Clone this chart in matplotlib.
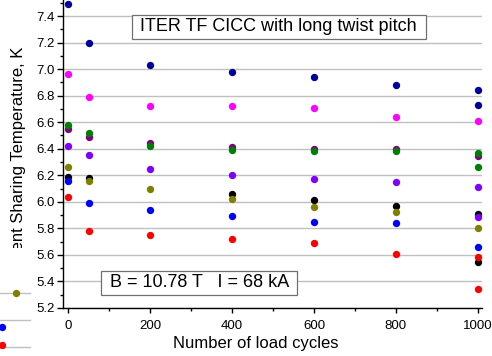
import matplotlib
matplotlib.use("Agg")
import matplotlib.pyplot as plt
from matplotlib.ticker import MultipleLocator

plt.rcParams['font.family'] = ['Liberation Sans', 'DejaVu Sans']

# load cycles at which Tcs was measured
cycles = [0, 50, 200, 400, 600, 800, 1000]
cycles_x2 = cycles + [1000]          # series with a second point at 1000
cycles_nb = [0, 50, 400, 600, 800, 1000, 1000]

navy_y = [7.49, 7.20, 7.03, 6.98, 6.94, 6.88, 6.84, 6.73]
magenta_y = [6.96, 6.79, 6.72, 6.72, 6.71, 6.64, 6.61]
black_y = [6.19, 6.18, 6.06, 6.01, 5.97, 5.905, 5.55]
purple_y = [6.55, 6.49, 6.44, 6.41, 6.40, 6.40, 6.345]
green_y = [6.58, 6.52, 6.42, 6.39, 6.38, 6.38, 6.37, 6.265]
violet_y = [6.42, 6.35, 6.25, 6.20, 6.17, 6.15, 6.11, 5.888]
olive_y = [6.26, 6.16, 6.10, 6.02, 5.96, 5.92, 5.80]
blue_y = [6.16, 5.99, 5.94, 5.89, 5.85, 5.84, 5.66]
red_y = [6.04, 5.78, 5.75, 5.72, 5.69, 5.61, 5.586, 5.343]

series = [
    (cycles_x2, navy_y, '#00009c'),
    (cycles, magenta_y, '#ff00ff'),
    (cycles_nb, black_y, '#000000'),
    (cycles, purple_y, '#800080'),
    (cycles_x2, green_y, '#008000'),
    (cycles_x2, violet_y, '#8000ff'),
    (cycles, olive_y, '#808000'),
    (cycles, blue_y, '#0000ff'),
    (cycles_x2, red_y, '#ff0000'),
]

# fragment of the neighbouring panel at the left edge
frag_grid = [0, 1, 2]
frag_x = [16, 2, 2]
frag_y = [2, 0.74, 0.07]
frag_c = ['#808000', '#0000ff', '#ff0000']

W, H = 492, 356
fig = plt.figure(figsize=(W / 100, H / 100), dpi=100)
ax = fig.add_axes([63.3 / W, 48 / H, 418.7 / W, 308 / H])

for xs, ys, c in series:
    ax.plot(xs, ys, 'o', color=c, ms=5.3, mew=0, zorder=3)

ax.set_xlim(-11.5, 1010)
ax.set_ylim(5.2, 7.5206)
ax.xaxis.set_major_locator(MultipleLocator(200))
ax.xaxis.set_minor_locator(MultipleLocator(100))
ax.yaxis.set_major_locator(MultipleLocator(0.2))
ax.yaxis.set_minor_locator(MultipleLocator(0.1))
ax.yaxis.set_major_formatter(matplotlib.ticker.FormatStrFormatter('%.1f'))
ax.grid(axis='y', which='major', color='#c0c0c0', lw=1.0, zorder=1)
ax.set_axisbelow(True)

for s in ['top', 'right']:
    ax.spines[s].set_visible(False)
for s in ['left', 'bottom']:
    ax.spines[s].set_linewidth(1.0)

ax.tick_params(axis='y', which='major', direction='out', length=4.3, width=1, pad=1.7, labelsize=9.5)
ax.tick_params(axis='y', which='minor', direction='out', length=2.2, width=1)
ax.tick_params(axis='x', which='major', direction='out', length=3.6, width=1, pad=5, labelsize=9.5)
ax.tick_params(axis='x', which='minor', direction='out', length=2.0, width=1)

ax.set_xlabel('Number of load cycles', fontsize=12)
ax.xaxis.set_label_coords(0.46, -0.092)
ax.set_ylabel('Current Sharing Temperature, K', fontsize=12)
ax.yaxis.set_label_coords(-0.089, 0.464)

box = dict(boxstyle='square,pad=0.2', fc='white', ec='#707070', lw=0.9)
ax.text(0.5145, 0.913, ' ITER TF CICC with long twist pitch ', transform=ax.transAxes,
        ha='center', va='center', fontsize=13, bbox=box, zorder=5)
ax.text(0.3236, 0.0818, ' B = 10.78 T   I = 68 kA ', transform=ax.transAxes,
        ha='center', va='center', fontsize=13, bbox=box, zorder=5)

# left fragment
ax2 = fig.add_axes([0, 0, 32 / W, 108 / H])
ax2.set_facecolor('white')
ax2.set_xlim(0, 32)
ax2.set_ylim(-0.333, 3.667)
for g in frag_grid:
    ax2.axhline(g, xmin=0, xmax=30 / 32, color='#c0c0c0', lw=1.0, zorder=1)
for x, y, c in zip(frag_x, frag_y, frag_c):
    ax2.plot(x, y, 'o', color=c, ms=5.3, mew=0, zorder=3, clip_on=False)
ax2.set_xticks([])
ax2.set_yticks([])
for s in ax2.spines.values():
    s.set_visible(False)

fig.savefig('out.png', dpi=100)
